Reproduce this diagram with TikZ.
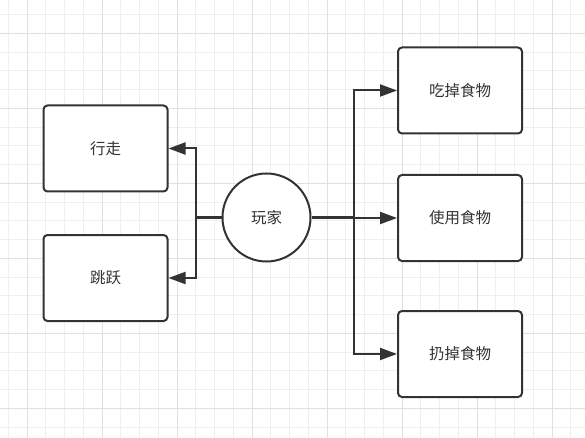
\documentclass[tikz,border=0pt]{standalone}
\usepackage{fontspec}
\setmainfont{Noto Sans CJK SC}
\usetikzlibrary{arrows.meta}
\definecolor{edge}{HTML}{333333}
\definecolor{gridminor}{HTML}{EFEFEF}
\definecolor{gridmajor}{HTML}{E0E0E0}

\begin{document}
\begin{tikzpicture}[x=1pt,y=-1pt,
  action/.style={draw=edge,line width=2pt,rounded corners=4pt,fill=white,
    minimum width=124pt,minimum height=86pt,text=edge,font=\fontsize{15.5}{18}\selectfont},
  actor/.style={circle,draw=edge,line width=2pt,fill=white,minimum size=88pt,
    inner sep=0pt,text=edge,font=\fontsize{15.5}{18}\selectfont},
  link/.style={draw=edge,line width=2pt,-{Triangle[length=17pt,width=12pt]}}]
  \useasboundingbox (0,0) rectangle (585,438);
  \fill[white] (0,0) rectangle (585,438);
  \foreach \i in {0,...,31} {
    \draw[gridminor,line width=0.9pt] ({8.3+18.75*\i},0) -- ++(0,438);
    \draw[gridminor,line width=0.9pt] (0,{14.5+18.75*\i}) -- ++(585,0);
  }
  \foreach \i in {0,...,7} {
    \draw[gridmajor,line width=0.9pt] ({27+75*\i},0) -- ++(0,438);
    \draw[gridmajor,line width=0.9pt] (0,{33+75*\i}) -- ++(585,0);
  }

  \node[actor] (player) at (266.5,217.5) {玩家};
  \node[action] (walk) at (105.5,148.5) {行走};
  \node[action] (jump) at (105.5,278) {跳跃};
  \node[action] (eat) at (460,90.5) {吃掉食物};
  \node[action] (use) at (460,218) {使用食物};
  \node[action] (drop) at (460,354) {扔掉食物};

  \coordinate (lfork) at (196,217.5);
  \coordinate (rfork) at (354,217.5);
  \draw[link] (player) -- (lfork) |- (walk);
  \draw[link] (player) -- (lfork) |- (jump);
  \draw[link] (player) -- (rfork) |- (eat);
  \draw[link] (player) -- (rfork) |- (use);
  \draw[link] (player) -- (rfork) |- (drop);
  \draw[edge,line width=3pt] (player) -- (lfork) (player) -- (rfork);
\end{tikzpicture}
\end{document}
